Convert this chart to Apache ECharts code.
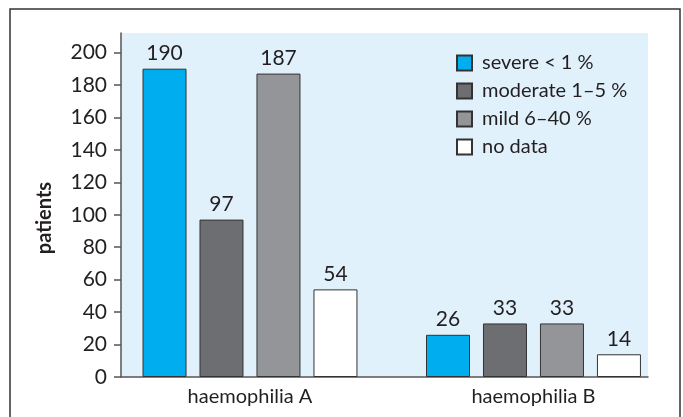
<!DOCTYPE html>
<html>
<head>
<meta charset="utf-8">
<script src="https://cdn.jsdelivr.net/npm/echarts@6/dist/echarts.min.js"></script>
<style>
  html, body { margin: 0; padding: 0; background: #fff; }
  #chart { width: 683px; height: 417px; }
</style>
</head>
<body>
<div id="chart"></div>
<script>
// data
const categories = ["haemophilia A", "haemophilia B"];
const severe = [190, 26];
const moderate = [97, 33];
const mild = [187, 33];
const noData = [54, 14];
const yTicks = [0, 20, 40, 60, 80, 100, 120, 140, 160, 180, 200];

const seriesNames = ["severe < 1 %", "moderate 1\u20135 %", "mild 6\u201340 %", "no data"];
const seriesColors = ["#00aeef", "#6d6e71", "#939598", "#ffffff"];
const seriesValues = [severe, moderate, mild, noData];

const font = "Lato";
const textColor = "#231f20";

const chart = echarts.init(document.getElementById("chart"));

const series = seriesValues.map(function (vals, i) {
  return {
    name: seriesNames[i],
    type: "bar",
    barWidth: 44,
    barGap: "29.5%",
    data: vals.map(function (v, j) { return [j + 1, v]; }),
    itemStyle: { color: seriesColors[i], borderColor: "#333", borderWidth: 1 },
    label: {
      show: true,
      position: "top",
      distance: 5,
      fontFamily: font,
      fontSize: 21,
      color: textColor,
      formatter: function (p) { return p.value[1]; }
    }
  };
});

const option = {
  animation: false,
  graphic: [{
    type: "rect",
    shape: { x: 10, y: 9, width: 670, height: 430 },
    style: { fill: "none", stroke: "#333", lineWidth: 1.5 },
    z: 100
  }],
  grid: {
    left: 121, right: 35, top: 33, bottom: 40,
    show: true, backgroundColor: "#e0f1fb", borderWidth: 0
  },
  legend: {
    orient: "vertical",
    left: 456, top: 53,
    padding: 0,
    icon: "rect",
    itemWidth: 15, itemHeight: 15,
    itemGap: 8,
    textStyle: { fontFamily: font, fontSize: 20, color: textColor, lineHeight: 15, padding: [0, 0, 0, 5] },
    data: seriesNames
  },
  xAxis: {
    type: "value",
    min: 0.545, max: 2.404,
    axisLine: { show: true, lineStyle: { color: "#555", width: 1.5 } },
    axisTick: { show: false },
    splitLine: { show: false },
    axisLabel: {
      customValues: [1, 2],
      formatter: function (v) { return categories[Math.round(v) - 1]; },
      fontFamily: font, fontSize: 20, color: textColor, margin: 10
    }
  },
  yAxis: {
    type: "value",
    min: 0, max: 212,
    name: "patients",
    nameLocation: "middle",
    nameGap: 66,
    nameTextStyle: { fontFamily: font, fontSize: 20, fontWeight: "bold", color: textColor, padding: [0, 0, 0, -26] },
    axisLine: { show: true, lineStyle: { color: "#555", width: 1.5 } },
    axisTick: { show: true, customValues: yTicks, length: 7, lineStyle: { color: "#555", width: 1.5 } },
    splitLine: { show: false },
    axisLabel: { customValues: yTicks, fontFamily: font, fontSize: 21, color: textColor, margin: 14 }
  },
  series: series
};

chart.setOption(option);
</script>
</body>
</html>
